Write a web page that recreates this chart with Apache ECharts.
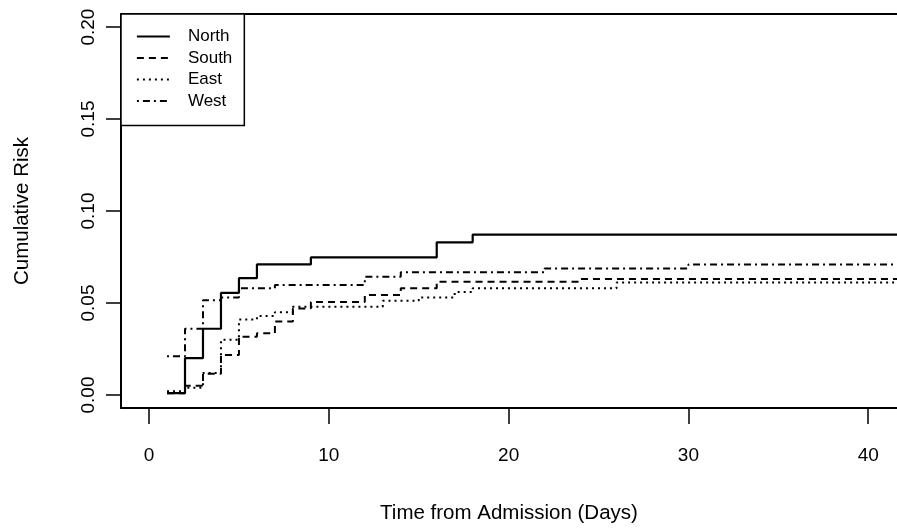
<!DOCTYPE html>
<html>
<head>
<meta charset="utf-8">
<script src="https://cdn.jsdelivr.net/npm/echarts@6/dist/echarts.min.js"></script>
<style>
  html, body { margin: 0; padding: 0; background: #ffffff; overflow: hidden; }
  #chart { width: 897px; height: 531px; overflow: hidden; }
</style>
</head>
<body>
<div id="chart"></div>
<script>
// Cumulative risk by region, step functions over days since admission
const regions = ['North', 'South', 'East', 'West'];

const northDays = [1, 2, 3, 4, 5, 6, 9, 16, 18, 42];
const northRisk = [0.001, 0.020, 0.036, 0.0555, 0.0635, 0.071, 0.0748, 0.083, 0.0872, 0.0872];

const southDays = [1, 2, 3, 4, 5, 6, 7, 8, 9, 12, 14, 16, 24, 42];
const southRisk = [0.001, 0.005, 0.0115, 0.0217, 0.0317, 0.0335, 0.040, 0.047, 0.0505, 0.0543, 0.058, 0.0616, 0.063, 0.063];

const eastDays = [1, 2, 3, 4, 5, 6, 7, 8, 13, 15, 17, 18, 26, 42];
const eastRisk = [0.002, 0.004, 0.012, 0.030, 0.041, 0.043, 0.045, 0.048, 0.0512, 0.053, 0.056, 0.058, 0.0612, 0.0612];

const westDays = [1, 2, 3, 4, 5, 7, 12, 14, 22, 30, 42];
const westRisk = [0.021, 0.036, 0.0515, 0.053, 0.058, 0.0598, 0.0643, 0.0667, 0.0688, 0.071, 0.071];

const xTicks = [0, 10, 20, 30, 40];
const yTicks = [0, 0.05, 0.10, 0.15, 0.20];

const dashStyles = {
  North: 'solid',
  South: [7, 5],
  East: [2, 4],
  West: [2, 4, 7, 4]
};

function pairs(days, risk) {
  return days.map((d, i) => [d, risk[i]]);
}

const seriesData = {
  North: pairs(northDays, northRisk),
  South: pairs(southDays, southRisk),
  East: pairs(eastDays, eastRisk),
  West: pairs(westDays, westRisk)
};

const FONT = 'Liberation Sans, Arial, sans-serif';
const X_MIN = -1.56;
const X_MAX = 41.6;

const chart = echarts.init(document.getElementById('chart'), null, { renderer: 'canvas' });

chart.setOption({
  backgroundColor: '#ffffff',
  animation: false,
  textStyle: { fontFamily: FONT, color: '#000' },
  grid: {
    left: 121,
    top: 14,
    right: 0,
    height: 394,
    show: false
  },
  legend: {
    data: regions,
    orient: 'vertical',
    left: 121,
    top: 14,
    backgroundColor: '#ffffff',
    borderColor: '#000',
    borderWidth: 1.5,
    borderRadius: 0,
    padding: [14, 12, 16, 15],
    itemWidth: 33,
    itemHeight: 14,
    itemGap: 4.5,
    textStyle: { fontFamily: FONT, fontSize: 17, color: '#000', padding: [0, 0, 0, 13] },
    itemStyle: { color: 'transparent', borderColor: 'transparent', borderWidth: 0, opacity: 0 },
    lineStyle: { width: 1.8 }
  },
  xAxis: [
    {
      type: 'value',
      min: X_MIN,
      max: X_MAX,
      name: 'Time from Admission (Days)',
      nameLocation: 'middle',
      nameGap: 95,
      nameTextStyle: { fontFamily: FONT, fontSize: 20.5, color: '#000' },
      axisLine: { show: true, onZero: false, lineStyle: { color: '#000', width: 2 } },
      splitLine: { show: false },
      axisTick: {
        show: true,
        inside: false,
        customValues: xTicks,
        length: 16,
        lineStyle: { color: '#000', width: 1.5 }
      },
      axisLabel: {
        customValues: xTicks,
        margin: 38,
        fontFamily: FONT,
        fontSize: 19,
        color: '#000',
        formatter: v => String(v)
      }
    },
    {
      // upper edge of the plot frame
      type: 'value',
      position: 'top',
      min: X_MIN,
      max: X_MAX,
      axisLine: { show: true, onZero: false, lineStyle: { color: '#000', width: 2 } },
      axisTick: { show: false },
      axisLabel: { show: false },
      splitLine: { show: false }
    }
  ],
  yAxis: {
    type: 'value',
    min: -0.00707,
    max: 0.2071,
    name: 'Cumulative Risk',
    nameLocation: 'middle',
    nameGap: 88,
    nameTextStyle: { fontFamily: FONT, fontSize: 20.5, color: '#000' },
    axisLine: { show: true, onZero: false, lineStyle: { color: '#000', width: 2 } },
    splitLine: { show: false },
    axisTick: {
      show: true,
      inside: false,
      customValues: yTicks,
      length: 15,
      lineStyle: { color: '#000', width: 1.5 }
    },
    axisLabel: {
      customValues: yTicks,
      rotate: 90,
      margin: 23,
      fontFamily: FONT,
      fontSize: 19,
      color: '#000',
      formatter: v => v.toFixed(2)
    }
  },
  series: regions.map(name => ({
    name: name,
    type: 'line',
    xAxisIndex: 0,
    step: 'end',
    symbol: 'none',
    clip: true,
    data: seriesData[name],
    lineStyle: { color: '#000', width: name === 'North' ? 2.2 : 2, type: dashStyles[name] },
    itemStyle: { color: '#000' },
    z: 3
  }))
});
</script>
</body>
</html>
